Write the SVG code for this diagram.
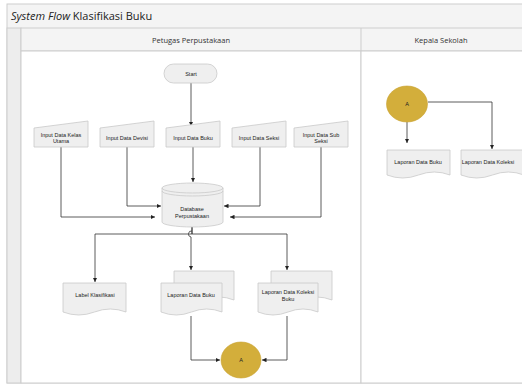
<svg xmlns="http://www.w3.org/2000/svg" width="522" height="385" viewBox="0 0 522 385">
<defs>
<style>
.frame{fill:#F4F4F4;stroke:#CDCDCD;stroke-width:1}
.lane{fill:#FFFFFF;stroke:#CDCDCD;stroke-width:1}
.shape{fill:#EFEFEF;stroke:#C9C9C9;stroke-width:0.8}
.conn{fill:none;stroke:#333333;stroke-width:0.8}
.t{font-family:"Liberation Sans",Arial,sans-serif;font-size:5.5px;fill:#222;text-anchor:middle}
.h{font-family:"Open Sans","Noto Sans",sans-serif;font-size:7.5px;fill:#333;text-anchor:middle}
.title{font-family:"Open Sans","Noto Sans",sans-serif;font-size:11px;fill:#222}
.conn-circle{fill:#D3AE3B;stroke:#C9A233;stroke-width:0.6}
</style>
<marker id="arr" viewBox="0 0 6 6" refX="6" refY="3" markerWidth="4.5" markerHeight="4.5" orient="auto" markerUnits="userSpaceOnUse">
<path d="M0,0 L6,3 L0,6 Z" fill="#222"/>
</marker>
</defs>

<g id="frame">
<rect class="frame" x="7" y="4" width="520" height="379"/>
<rect class="frame" x="7" y="28" width="14" height="355" style="fill:#EDEDED"/>
<rect class="frame" x="21" y="28" width="506" height="23"/>
<rect class="lane" x="21" y="51" width="340" height="332"/>
<rect class="lane" x="361" y="51" width="166" height="332"/>
<line x1="361" y1="28" x2="361" y2="51" stroke="#CDCDCD"/>
<text class="title" x="11" y="20"><tspan font-style="italic">System Flow</tspan> Klasifikasi Buku</text>
<text class="h" x="191" y="43">Petugas Perpustakaan</text>
<text class="h" x="441" y="43">Kepala Sekolah</text>
</g>

<g id="connectors">
<path class="conn" d="M191,83 V126" marker-end="url(#arr)"/>
<path class="conn" d="M193,147 V182" marker-end="url(#arr)"/>
<path class="conn" d="M127,147 V206 H161" marker-end="url(#arr)"/>
<path class="conn" d="M260,147 V206 H224" marker-end="url(#arr)"/>
<path class="conn" d="M61,147 V217 H155" marker-end="url(#arr)"/>
<path class="conn" d="M321,147 V217 H230" marker-end="url(#arr)"/>
<path class="conn" d="M192,227 V234 H95 V282" marker-end="url(#arr)"/>
<path class="conn" d="M192,227 V234 H287 V270" marker-end="url(#arr)"/>
<path class="conn" d="M192,231 A3,3 0 0 0 191,237 V270" marker-end="url(#arr)"/>
<path class="conn" d="M191,316 V360 H220" marker-end="url(#arr)"/>
<path class="conn" d="M287,316 V360 H262" marker-end="url(#arr)"/>
<path class="conn" d="M407,122 V143" marker-end="url(#arr)"/>
<path class="conn" d="M428,102 H492 V149" marker-end="url(#arr)"/>
</g>

<g id="start">
<rect class="shape" x="164" y="64" width="53" height="19" rx="9.5"/>
<text class="t" x="191" y="76">Start</text>
</g>

<g id="input-kelas-utama">
<polygon class="shape" points="34,128 88,121 88,147 34,147"/>
<text class="t" x="61" y="137">Input Data Kelas</text>
<text class="t" x="61" y="143">Utama</text>
</g>
<g id="input-devisi">
<polygon class="shape" points="100,128 154,121 154,147 100,147"/>
<text class="t" x="127" y="140">Input Data Devisi</text>
</g>
<g id="input-buku">
<polygon class="shape" points="166,128 220,121 220,147 166,147"/>
<text class="t" x="193" y="140">Input Data Buku</text>
</g>
<g id="input-seksi">
<polygon class="shape" points="232,128 286,121 286,147 232,147"/>
<text class="t" x="259" y="140">Input Data Seksi</text>
</g>
<g id="input-sub-seksi">
<polygon class="shape" points="294,128 348,121 348,147 294,147"/>
<text class="t" x="321" y="137">Input Data Sub</text>
<text class="t" x="321" y="143">Seksi</text>
</g>

<g id="database">
<path class="shape" d="M162,188 A30.5,5 0 0 1 223,188 V222 A30.5,5 0 0 1 162,222 Z"/>
<path class="shape" style="fill:none" d="M162,188 A30.5,5 0 0 0 223,188"/>
<path class="shape" style="fill:none" d="M162,191 A30.5,5 0 0 0 223,191"/>
<text class="t" x="192" y="211">Database</text>
<text class="t" x="192" y="218">Perpustakaan</text>
</g>

<g id="label-klasifikasi">
<path class="shape" d="M63,283 H126 V312 Q110.25,306 94.5,312 T63,312 Z"/>
<text class="t" x="95" y="297">Label Klasifikasi</text>
</g>

<g id="laporan-data-buku">
<path class="shape" d="M174,271 H234 V300 Q219,294 204,300 T174,300 Z"/>
<path class="shape" d="M161,283 H222 V312 Q206.75,306 191.5,312 T161,312 Z"/>
<text class="t" x="191" y="297">Laporan Data Buku</text>
</g>

<g id="laporan-data-koleksi">
<path class="shape" d="M271,271 H332 V300 Q316.75,294 301.5,300 T271,300 Z"/>
<path class="shape" d="M258,283 H318 V312 Q303,306 288,312 T258,312 Z"/>
<text class="t" x="288" y="294">Laporan Data Koleksi</text>
<text class="t" x="288" y="301">Buku</text>
</g>

<g id="connector-a-out">
<ellipse class="conn-circle" cx="241" cy="360" rx="20" ry="18"/>
<text class="t" x="241" y="362">A</text>
</g>

<g id="connector-a-in">
<ellipse class="conn-circle" cx="407" cy="104" rx="20.5" ry="18"/>
<text class="t" x="407" y="106">A</text>
</g>

<g id="kepsek-laporan-buku">
<path class="shape" d="M387,150 H450 V175 Q434.25,169 418.5,175 T387,175 Z"/>
<text class="t" x="418" y="164">Laporan Data Buku</text>
</g>

<g id="kepsek-laporan-koleksi">
<path class="shape" d="M461,150 H524 V175 Q508.25,169 492.5,175 T461,175 Z"/>
<text class="t" x="488" y="164">Laporan Data Koleksi</text>
</g>
</svg>
